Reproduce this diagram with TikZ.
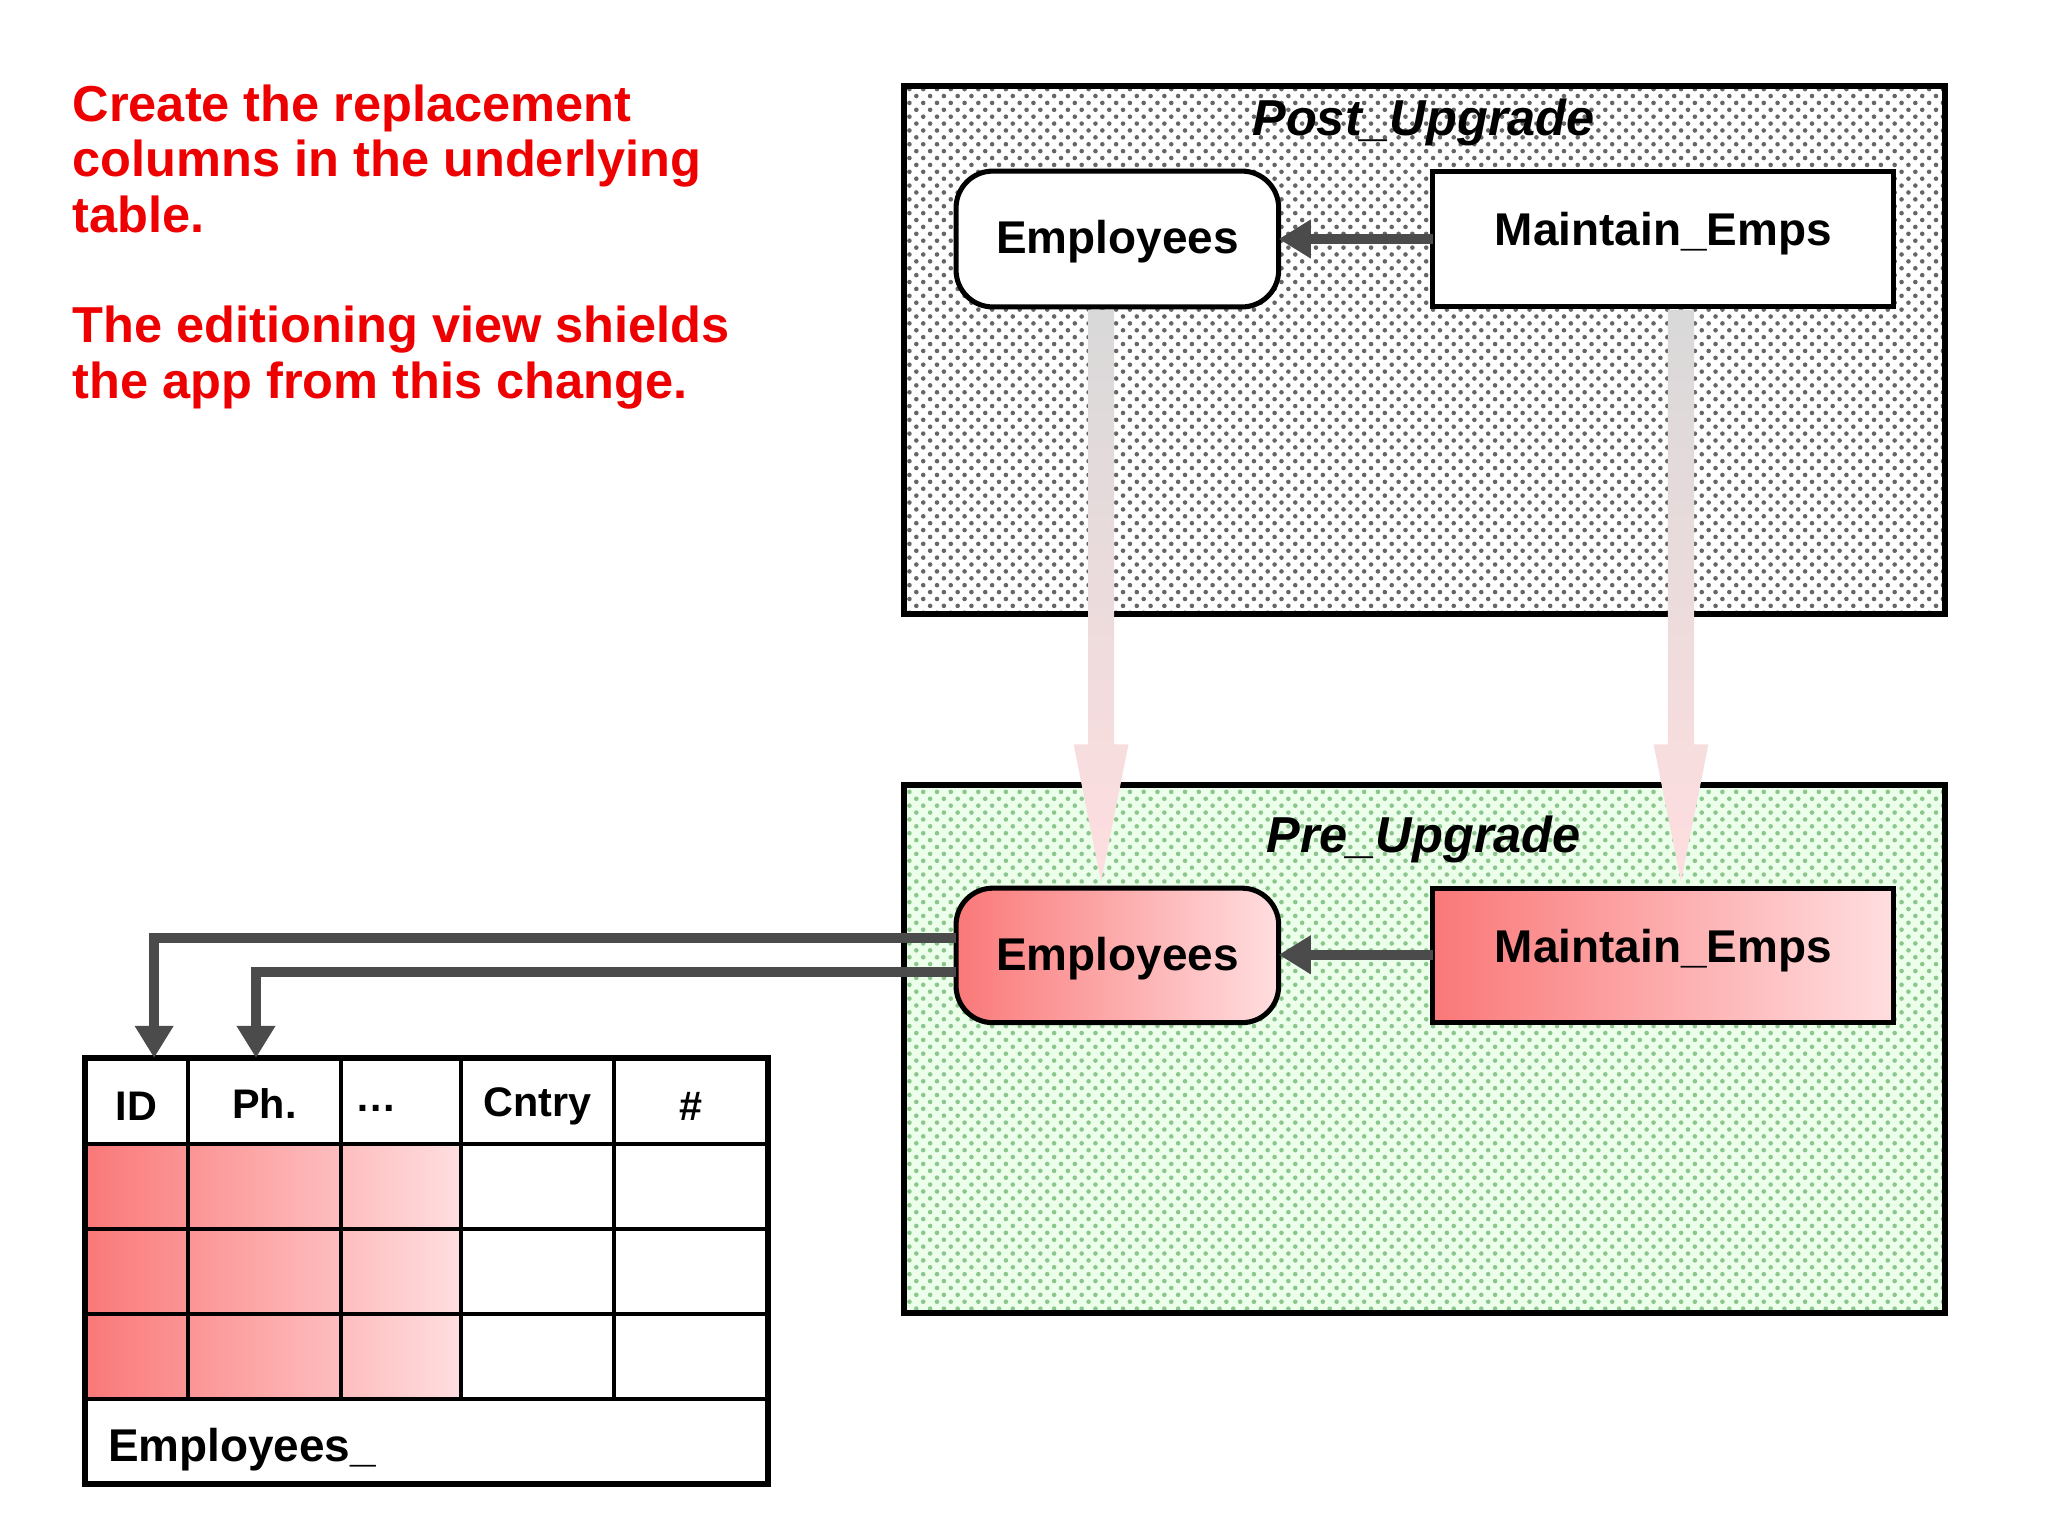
\documentclass[tikz,border=0pt]{standalone}
\usepackage{fontspec}
\setmainfont{Liberation Sans}
\usetikzlibrary{patterns,arrows.meta}
\definecolor{tred}{RGB}{238,0,0}
\definecolor{rose}{RGB}{250,120,120}
\definecolor{blush}{RGB}{255,222,224}
\definecolor{wire}{RGB}{75,75,75}
\tikzset{
  lbl/.style={font=\fontsize{10}{12}\selectfont\bfseries},
  head/.style={font=\fontsize{9}{11}\selectfont\bfseries},
  obj/.style={draw=black, line width=1.1pt, lbl},
  hot/.style={left color=rose, right color=blush},
  link/.style={draw=wire, line width=2.2pt, -{Triangle[length=7pt,width=8pt]}},
  fat/.style={top color=black!15, bottom color=blush, draw=none}
}
\begin{document}
\begin{tikzpicture}[x=0.01cm, y=-0.01cm]
\useasboundingbox (0,0) rectangle (1568,1176);

% notes
\node[anchor=north west, align=left, inner sep=0pt, text=tred, font=\fontsize{11}{12.1}\selectfont\bfseries]
  (note) at (55,64) {Create the replacement\\columns in the underlying\\table.\\[12pt]The editioning view shields\\the app from this change.};

% editions
\fill[white] (692,66) rectangle (1489,470);
\path[pattern=crosshatch dots, pattern color=black!60] (692,66) rectangle (1489,470);
\draw[line width=1.3pt] (692,66) rectangle (1489,470);
\node[font=\fontsize{11}{13}\selectfont\bfseries\itshape] (post) at (1090,94) {Post\_Upgrade};

\fill[green!8] (692,601) rectangle (1489,1005);
\path[pattern=crosshatch dots, pattern color=green!50!black!45] (692,601) rectangle (1489,1005);
\draw[line width=1.3pt] (692,601) rectangle (1489,1005);
\node[font=\fontsize{11}{13}\selectfont\bfseries\itshape] (pre) at (1090,643) {Pre\_Upgrade};

% inheritance arrows
\foreach \x in {843,1287}{
  \path[fat] (\x-10,237) -- (\x+10,237) -- (\x+10,570) -- (\x+21,570)
    -- (\x,675) -- (\x-21,570) -- (\x-10,570) -- cycle;
}

% objects
\draw[obj, fill=white, rounded corners=8pt] (732,131) rectangle (979,235);
\node[lbl] (empPost) at (855.5,185) {Employees};
\draw[obj, fill=white] (1097,131) rectangle (1450,235);
\node[lbl] (maintPost) at (1273.5,179) {Maintain\_Emps};
\coordinate (mpL) at (1097,183);
\coordinate (epR) at (979,183);
\draw[link] (mpL) -- (epR);

\draw[obj, hot, rounded corners=8pt] (732,680) rectangle (979,783);
\node[lbl] (empPre) at (855.5,734) {Employees};
\draw[obj, hot] (1097,680) rectangle (1450,783);
\node[lbl] (maintPre) at (1273.5,728) {Maintain\_Emps};
\coordinate (mL) at (1097,731);
\coordinate (eR) at (979,731);
\draw[link] (mL) -- (eR);

% table
\shade[left color=rose, right color=blush] (65,876) rectangle (353,1071);
\draw[line width=1.3pt] (65,810) rectangle (588,1136);
\foreach \x in {144,261,353,470}
  \draw[line width=1pt] (\x,810) -- (\x,1071);
\foreach \y in {876,941,1006,1071}
  \draw[line width=1pt] (65,\y) -- (588,\y);
\node[head] (cId) at (104.5,847) {ID};
\node[head] (cPh) at (202.5,845) {Ph.};
\node[head] (cDots) at (288,849) {\dots};
\node[head] (cCntry) at (411.5,847) {Cntry};
\node[head] (cHash) at (529,847) {\#};
\node[lbl, anchor=west, inner sep=0pt] (tab) at (82,1110) {Employees\_};

% column links
\coordinate (e1) at (732,718);
\coordinate (e2) at (732,744);
\coordinate (idTop) at (118,810);
\coordinate (phTop) at (196,810);
\draw[link] (e1) -- (118,718) -- (idTop);
\draw[link] (e2) -- (196,744) -- (phTop);
\end{tikzpicture}
\end{document}
